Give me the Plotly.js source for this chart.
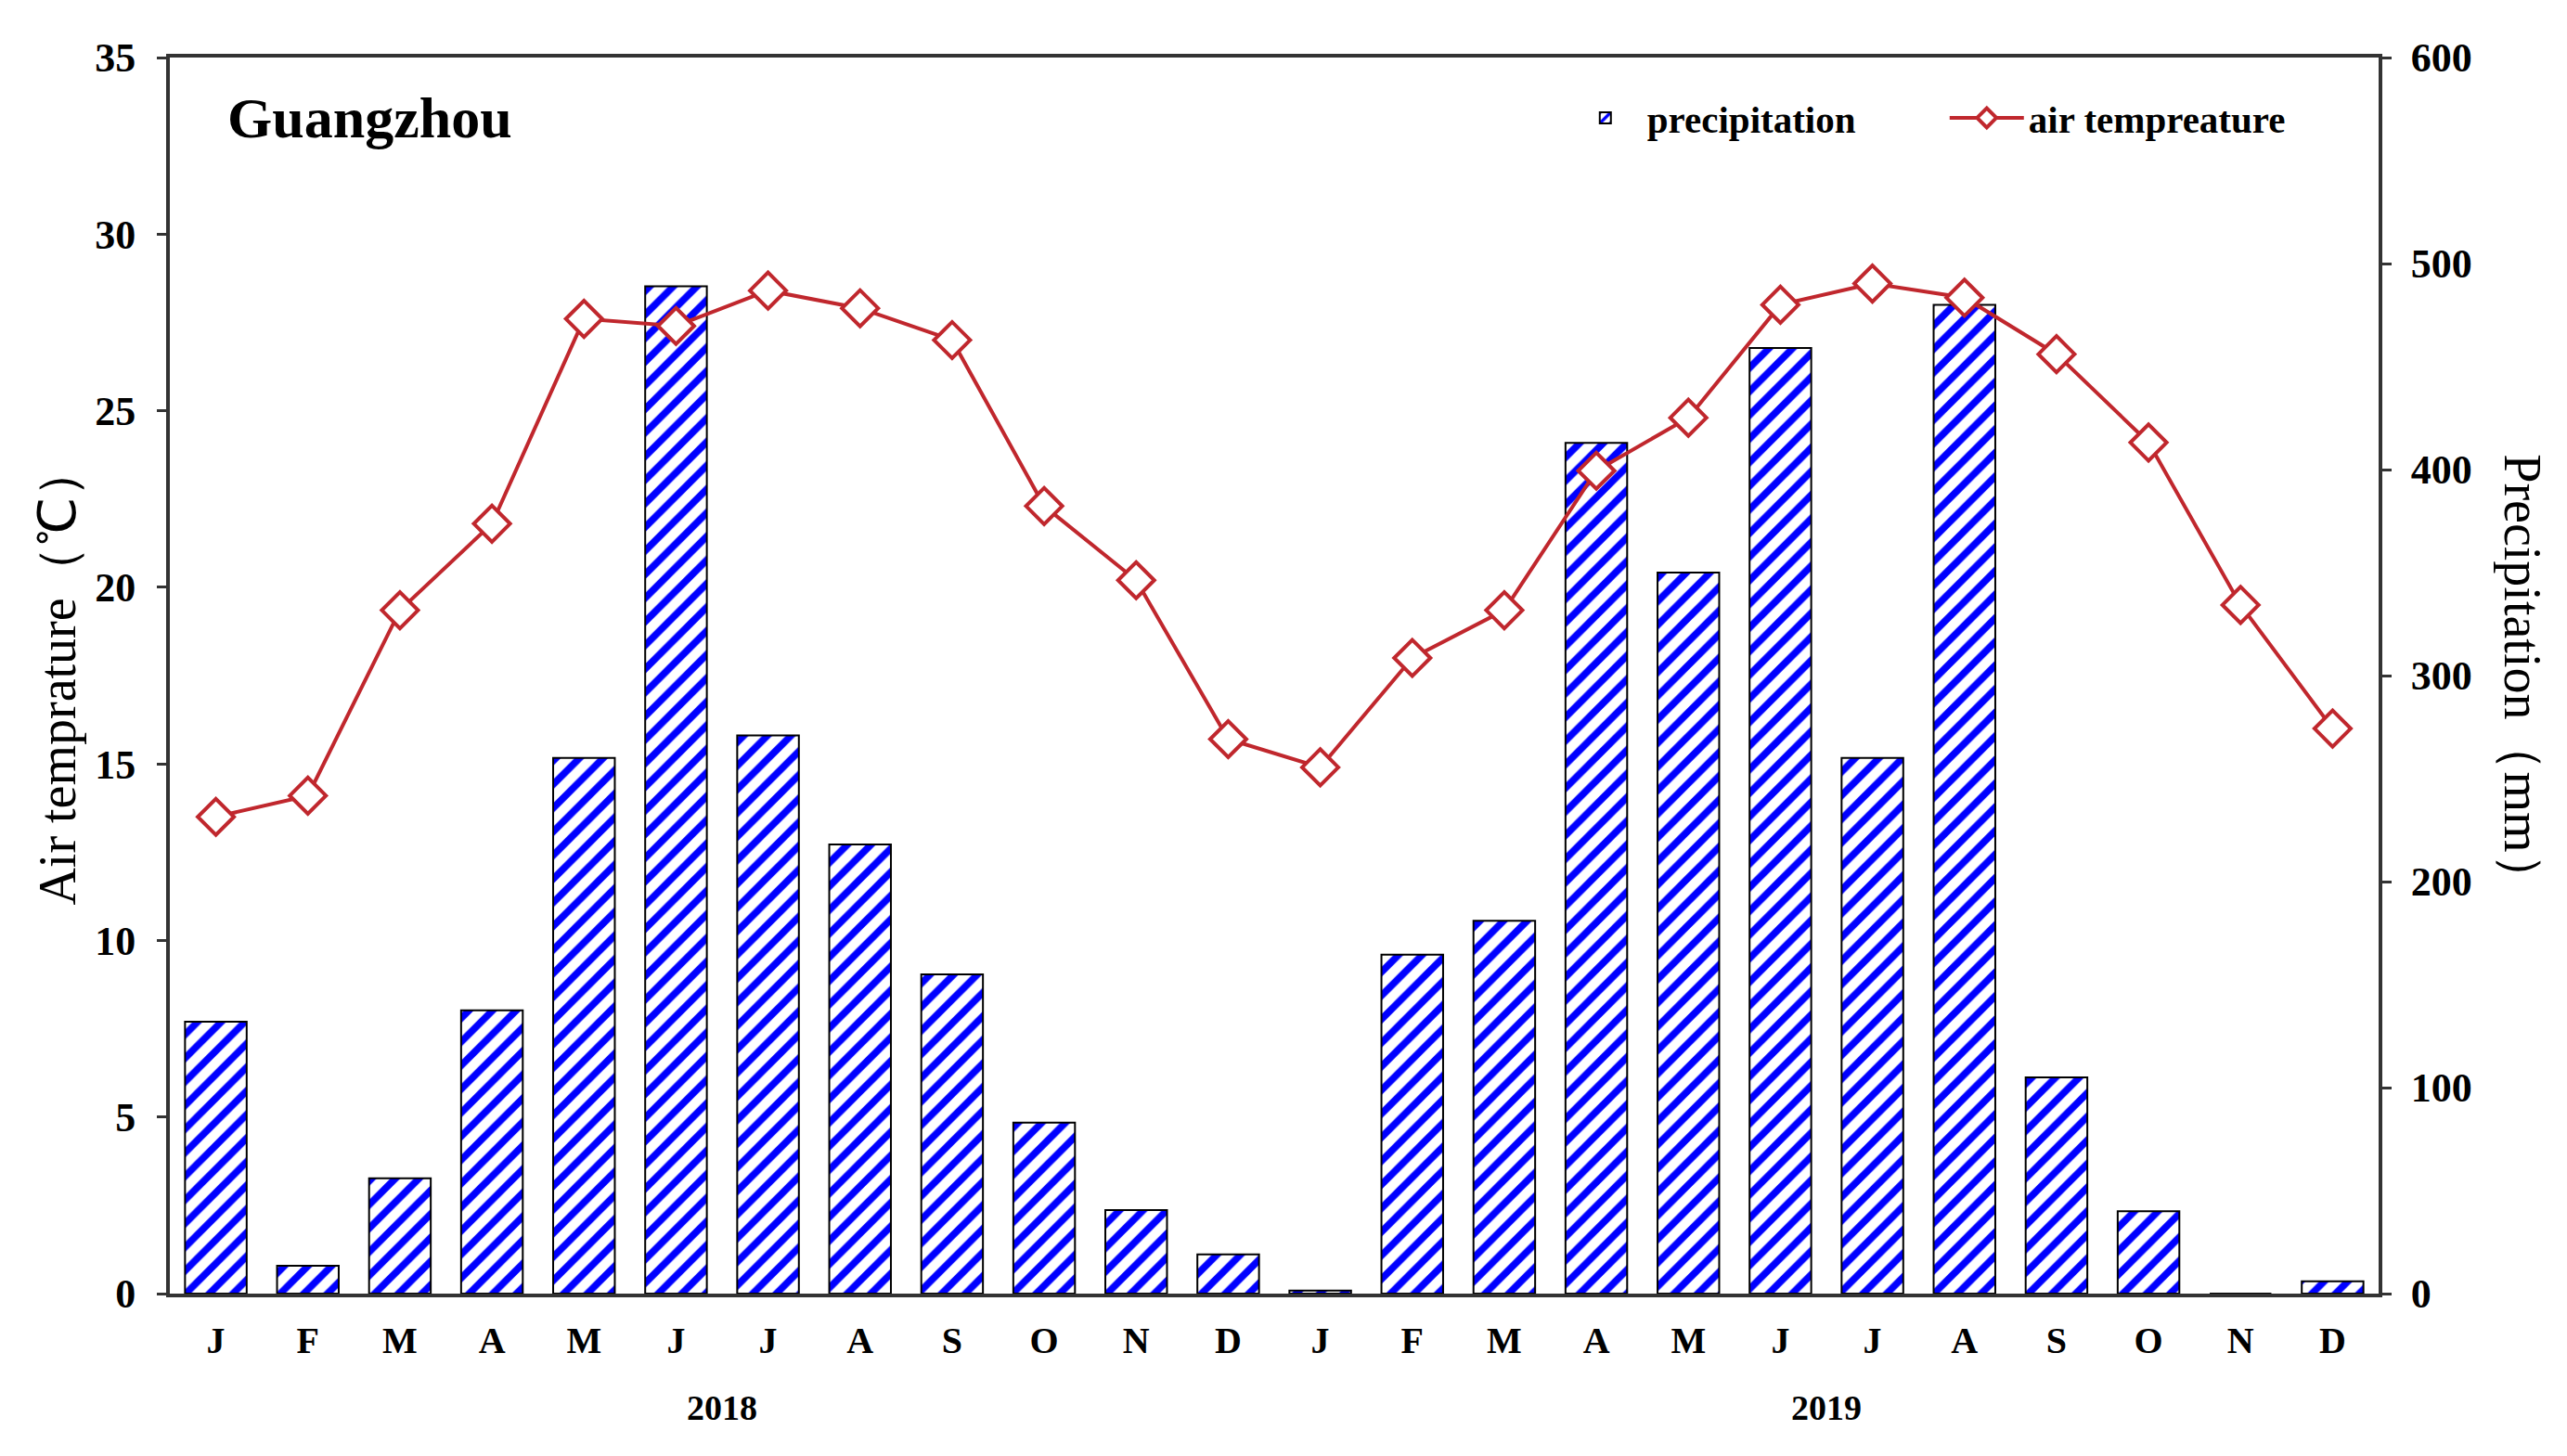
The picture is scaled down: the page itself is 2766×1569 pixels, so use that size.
<!DOCTYPE html>
<html>
<head>
<meta charset="utf-8">
<script src="https://cdn.plot.ly/plotly-3.0.1.min.js"></script>
<style>html,body{margin:0;padding:0;background:#fff;}#chart{width:2766px;height:1569px;}</style>
</head>
<body>
<div id="chart"></div>
<script>
const months = ["J","F","M","A","M","J","J","A","S","O","N","D","J","F","M","A","M","J","J","A","S","O","N","D"];
const years = ["2018","2019"];
const precipitation = [132,13.5,56,137.5,260,489,271,218,155,83,40.5,19,1.5,164.5,181,413,350,459,260,480,105,40,0,6];
const airTemperature = [13.5,14.1,19.35,21.8,27.6,27.4,28.4,27.9,27.0,22.3,20.2,15.7,14.9,18.0,19.35,23.3,24.8,28.0,28.6,28.2,26.6,24.1,19.5,16.0];
const tempTicks = [0,5,10,15,20,25,30,35];
const precTicks = [0,100,200,300,400,500,600];

const idx = months.map((m, i) => i);
const serif = "Liberation Serif, Times New Roman, serif";
const red = "#C0272D";

const traces = [
  {
    type: "bar", name: "precipitation", x: idx, y: precipitation, yaxis: "y",
    marker: {
      color: "#ffffff",
      line: {color: "#000000", width: 2},
      pattern: {shape: "/", fgcolor: "#0000FF", bgcolor: "#ffffff", size: 18, solidity: 0.42, fillmode: "replace"}
    },
    hoverinfo: "skip"
  },
  {
    type: "scatter", mode: "lines+markers", name: "air tempreature", x: idx, y: airTemperature, yaxis: "y2",
    line: {color: red, width: 4},
    marker: {symbol: "diamond", size: 30, color: "#ffffff", line: {color: red, width: 4}},
    hoverinfo: "skip"
  }
];

const layout = {
  width: 2766, height: 1569,
  margin: {l: 183, r: 203, t: 62, b: 175},
  paper_bgcolor: "#ffffff", plot_bgcolor: "#ffffff",
  showlegend: true,
  bargap: 0.33,
  font: {family: serif, color: "#000"},
  xaxis: {
    range: [-0.5, 23.5], tickvals: idx, ticktext: months, ticks: "",
    showline: true, linecolor: "#333", linewidth: 4, mirror: true,
    showgrid: false, zeroline: false,
    tickfont: {family: serif, size: 40, weight: "bold", color: "#000"},
    ticklabelstandoff: 12
  },
  yaxis: {
    side: "right", range: [0, 600], tickvals: precTicks, ticks: "outside", ticklen: 10, tickwidth: 3, tickcolor: "#333",
    showline: true, linecolor: "#333", linewidth: 4, showgrid: false, zeroline: false,
    tickfont: {family: serif, size: 44, weight: "bold", color: "#000"},
    ticklabelstandoff: 12
  },
  yaxis2: {
    overlaying: "y", side: "left", range: [0, 35], tickvals: tempTicks, ticks: "outside", ticklen: 10, tickwidth: 3, tickcolor: "#333",
    showline: true, linecolor: "#333", linewidth: 4, showgrid: false, zeroline: false,
    tickfont: {family: serif, size: 44, weight: "bold", color: "#000"},
    ticklabelstandoff: 14
  },
  legend: {
    orientation: "h", x: 0.631, y: 0.951, xanchor: "left", yanchor: "middle",
    font: {family: serif, size: 41, weight: "bold", color: "#000"},
    bgcolor: "rgba(0,0,0,0)", itemwidth: 80, tracegroupgap: 0,
    entrywidth: 316, entrywidthmode: "pixels"
  },
  annotations: [
    {text: "Guangzhou", xref: "paper", yref: "paper", x: 0.025, y: 0.951, xanchor: "left", yanchor: "middle", showarrow: false,
     font: {family: serif, size: 62, weight: "bold", color: "#000"}},
    {text: years[0], xref: "x", yref: "paper", x: 5.5, y: -0.092, xanchor: "center", yanchor: "middle", showarrow: false,
     font: {family: serif, size: 38, weight: "bold", color: "#000"}},
    {text: years[1], xref: "x", yref: "paper", x: 17.5, y: -0.092, xanchor: "center", yanchor: "middle", showarrow: false,
     font: {family: serif, size: 38, weight: "bold", color: "#000"}},
    {text: "Air temprature（℃）", xref: "paper", yref: "paper", x: -0.051, y: 0.50, xanchor: "center", yanchor: "middle", textangle: -90, showarrow: false,
     font: {family: serif, size: 56, color: "#000"}},
    {text: "Precipitation（mm）", xref: "paper", yref: "paper", x: 1.065, y: 0.497, xanchor: "center", yanchor: "middle", textangle: 90, showarrow: false,
     font: {family: serif, size: 56, color: "#000"}}
  ]
};

Plotly.newPlot("chart", traces, layout, {staticPlot: true, displayModeBar: false});
</script>
</body>
</html>
